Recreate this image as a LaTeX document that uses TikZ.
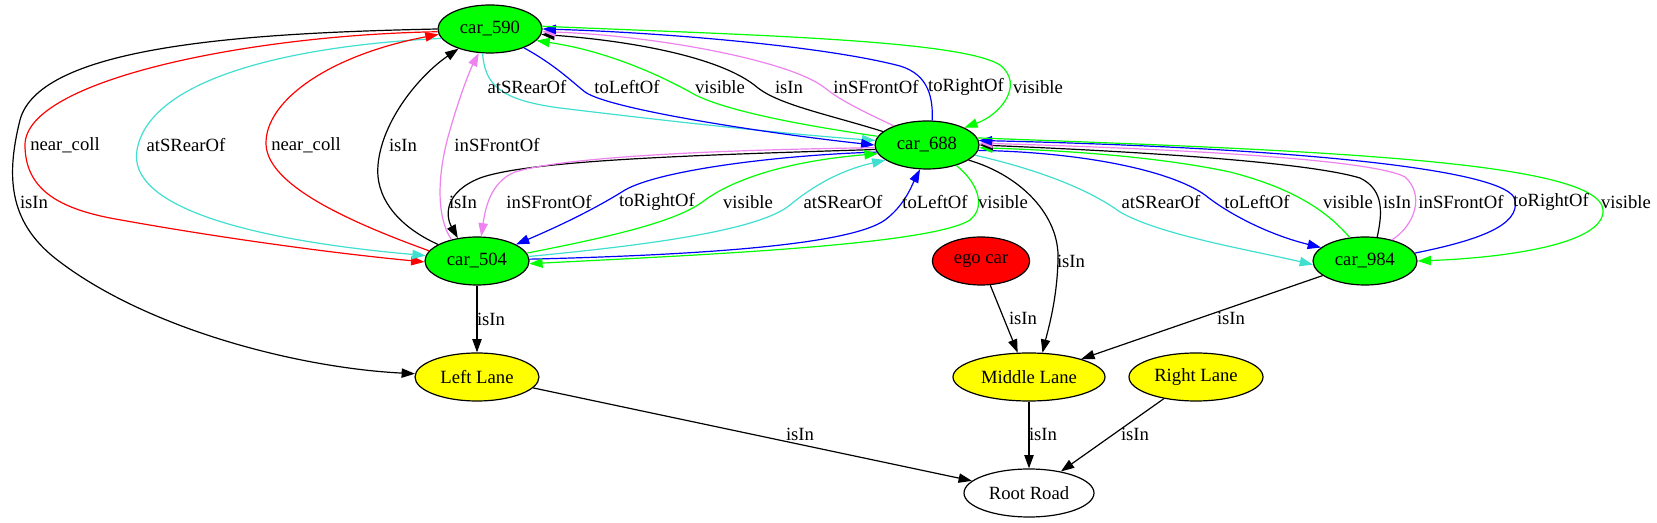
\documentclass[tikz,border=0pt]{standalone}
\usepackage{fontspec}
\setmainfont{Liberation Serif}
\newfontfamily\gvfont{Liberation Serif}
\usetikzlibrary{arrows.meta,shapes.geometric}
\definecolor{gvgreen}{HTML}{00FF00}
\definecolor{gvturq}{HTML}{40E0D0}
\definecolor{gvviolet}{HTML}{EE82EE}
\definecolor{gvblue}{HTML}{0000FF}
\definecolor{gvred}{HTML}{FF0000}
\definecolor{gvyellow}{HTML}{FFFF00}
\begin{document}
\begin{tikzpicture}[x=0.75pt,y=-0.75pt,
  gnode/.style={ellipse,draw=black,line width=0.9pt,inner sep=0pt,minimum height=36pt,font=\gvfont\fontsize{14pt}{16pt}\selectfont},
  car/.style={gnode,fill=gvgreen,minimum width=78pt},
  lane/.style={gnode,fill=gvyellow},
  lbl/.style={font=\gvfont\fontsize{14pt}{16pt}\selectfont,inner sep=0pt},
  edge/.style={-{Triangle[length=10pt,width=7pt]},line width=0.9pt},
  ecyan/.style={edge,draw=gvturq},
  egreen/.style={edge,draw=gvgreen},
  eblue/.style={edge,draw=gvblue},
  eviolet/.style={edge,draw=gvviolet},
  ered/.style={edge,draw=gvred},
]
\fill[white] (0,0) rectangle (1657,523);
\useasboundingbox (0,0) rectangle (1657,523);

% nodes
\node[car] (c590) at (490,29) {car\_590};
\node[car] (c688) at (927,145) {car\_688};
\node[car] (c504) at (477,261) {car\_504};
\node[car] (c984) at (1365,261) {car\_984};
\node[gnode,fill=gvred,minimum width=73pt] (ego) at (981,261) {ego car};
\node[lane,minimum width=93pt] (LL) at (477,377) {Left Lane};
\node[lane,minimum width=114pt] (ML) at (1029,377) {Middle Lane};
\node[lane,minimum width=100.5pt] (RL) at (1196,377) {Right Lane};
\node[gnode,fill=white,minimum width=97.5pt] (RR) at (1029,493) {Root Road};

% left group: car_590 <-> car_504
\draw[edge] (c590.180) .. controls (250,33) and (40,45) .. (20,120) .. controls (5,180) and (10,225) .. (60,262) .. controls (150,330) and (300,368) .. (LL.177);
\draw[ered] (c590.183) .. controls (250,35) and (25,80) .. (25,145) .. controls (25,190) and (60,208) .. (110,218) .. controls (230,240) and (350,255) .. (c504.181);
\draw[ecyan] (c590.191) .. controls (300,45) and (150,76) .. (137,150) .. controls (127,207) and (250,240) .. (c504.174);
\draw[ered] (c504.168) .. controls (330,215) and (266,180) .. (266,143) .. controls (266,100) and (330,55) .. (c590.186);
\draw[edge] (c504.157) .. controls (395,225) and (375,195) .. (378,165) .. controls (382,120) and (420,75) .. (c590.212);
\draw[eviolet] (c504.140) .. controls (435,215) and (438,170) .. (450,130) .. controls (460,95) and (470,70) .. (c590.245);

% top group: car_590 <-> car_688
\draw[ecyan] (c590.253) .. controls (485,85) and (500,100) .. (560,108) .. controls (700,125) and (800,135) .. (c688.175);
\draw[eblue] (c590.331) .. controls (555,65) and (570,80) .. (585,92) .. controls (610,110) and (780,135) .. (c688.180);
\draw[egreen] (c688.170) .. controls (800,125) and (720,110) .. (690,92) .. controls (650,70) and (600,50) .. (c590.346);
\draw[edge] (c688.163) .. controls (830,115) and (780,105) .. (758,88) .. controls (720,55) and (620,40) .. (c590.354);
\draw[eviolet] (c688.150) .. controls (860,110) and (840,100) .. (825,88) .. controls (790,60) and (650,35) .. (c590.357);
\draw[eblue] (c688.78) .. controls (933,100) and (930,75) .. (900,66) .. controls (820,45) and (650,32) .. (c590.0);
\draw[egreen] (c590.3) .. controls (750,35) and (960,40) .. (1000,65) .. controls (1025,85) and (1000,115) .. (c688.25);

% middle group: car_688 <-> car_504
\draw[edge] (c688.185) .. controls (700,155) and (530,160) .. (480,178) .. controls (445,192) and (445,215) .. (c504.130);
\draw[eviolet] (c688.183) .. controls (700,150) and (560,158) .. (515,172) .. controls (490,182) and (485,210) .. (c504.80);
\draw[eblue] (c688.188) .. controls (780,155) and (660,170) .. (625,190) .. controls (590,212) and (550,230) .. (c504.23);
\draw[egreen] (c504.9) .. controls (620,235) and (680,220) .. (705,200) .. controls (740,175) and (800,160) .. (c688.190);
\draw[ecyan] (c504.5) .. controls (650,245) and (760,230) .. (790,205) .. controls (820,180) and (850,168) .. (c688.200);
\draw[eblue] (c504.2) .. controls (700,255) and (850,245) .. (885,220) .. controls (905,205) and (912,185) .. (c688.254);
\draw[egreen] (c688.325) .. controls (975,180) and (988,205) .. (970,220) .. controls (930,245) and (700,255) .. (c504.357);

% right group: car_688 <-> car_984
\draw[ecyan] (c688.348) .. controls (1040,170) and (1090,190) .. (1120,212) .. controls (1160,235) and (1250,250) .. (c984.184);
\draw[eblue] (c688.354) .. controls (1080,152) and (1170,170) .. (1205,195) .. controls (1230,215) and (1270,235) .. (c984.163);
\draw[egreen] (c984.123) .. controls (1330,215) and (1300,190) .. (1230,172) .. controls (1150,155) and (1050,150) .. (c688.357);
\draw[edge] (c984.63) .. controls (1382,215) and (1385,190) .. (1360,178) .. controls (1300,160) and (1100,150) .. (c688.0);
\draw[eviolet] (c984.38) .. controls (1415,225) and (1425,195) .. (1405,177) .. controls (1370,158) and (1150,148) .. (c688.2);
\draw[eblue] (c984.9) .. controls (1480,240) and (1520,225) .. (1515,200) .. controls (1510,170) and (1300,148) .. (c688.5);
\draw[egreen] (c688.8) .. controls (1300,150) and (1600,160) .. (1603,210) .. controls (1605,245) and (1500,258) .. (c984.0);

% lower edges
\draw[edge] (c688.340) .. controls (1020,175) and (1060,215) .. (1058,260) .. controls (1057,300) and (1048,330) .. (ML.61);
\draw[edge] (ego.291) -- (ML.115);
\draw[edge] (c984.199) -- (ML.19);
\draw[edge] (c504.270) -- (LL.90);
\draw[edge] (LL.349) -- (RR.168);
\draw[edge] (ML.270) -- (RR.90);
\draw[edge] (RL.214) -- (RR.34);

% labels
\node[lbl] (l01) at (65,145) {near\_coll};
\node[lbl] (l02) at (186,145) {atSRearOf};
\node[lbl] (l03) at (306,145) {near\_coll};
\node[lbl] (l04) at (403,145) {isIn};
\node[lbl] (l05) at (497,145) {inSFrontOf};
\node[lbl] (l06) at (34,202) {isIn};

\node[lbl] (l07) at (527,87) {atSRearOf};
\node[lbl] (l08) at (627,87) {toLeftOf};
\node[lbl] (l09) at (720,87) {visible};
\node[lbl] (l10) at (789,87) {isIn};
\node[lbl] (l11) at (876,87) {inSFrontOf};
\node[lbl] (l12) at (966,87) {toRightOf};
\node[lbl] (l13) at (1038,87) {visible};

\node[lbl] (l14) at (463,202) {isIn};
\node[lbl] (l15) at (549,202) {inSFrontOf};
\node[lbl] (l16) at (657,202) {toRightOf};
\node[lbl] (l17) at (748,202) {visible};
\node[lbl] (l18) at (843,202) {atSRearOf};
\node[lbl] (l19) at (935,202) {toLeftOf};
\node[lbl] (l20) at (1003,202) {visible};

\node[lbl] (l21) at (1161,202) {atSRearOf};
\node[lbl] (l22) at (1257,202) {toLeftOf};
\node[lbl] (l23) at (1348,202) {visible};
\node[lbl] (l24) at (1397,202) {isIn};
\node[lbl] (l25) at (1461,202) {inSFrontOf};
\node[lbl] (l26) at (1551,202) {toRightOf};
\node[lbl] (l27) at (1626,202) {visible};

\node[lbl] (l28) at (1071,261) {isIn};
\node[lbl] (l29) at (491,319) {isIn};
\node[lbl] (l30) at (1023,318) {isIn};
\node[lbl] (l31) at (1231,318) {isIn};
\node[lbl] (l32) at (800,434) {isIn};
\node[lbl] (l33) at (1043,434) {isIn};
\node[lbl] (l34) at (1135,434) {isIn};
\end{tikzpicture}
\end{document}
